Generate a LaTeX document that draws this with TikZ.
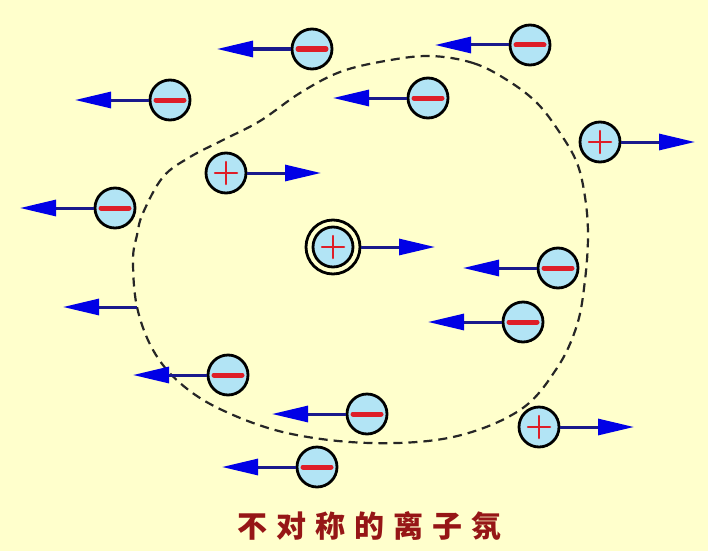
\documentclass[tikz,border=0pt]{standalone}
\usepackage{fontspec}
\newfontfamily\cjk{Noto Sans CJK SC}
\usetikzlibrary{arrows.meta,calc}

\definecolor{paper}{RGB}{255,255,204}
\definecolor{ionfill}{RGB}{178,228,245}
\definecolor{signred}{RGB}{222,30,40}
\definecolor{navyline}{RGB}{25,25,140}
\definecolor{headblue}{RGB}{0,0,230}
\definecolor{cloudtext}{RGB}{150,22,22}

\tikzset{
  ion/.style={circle, draw=black, line width=2.8pt, fill=ionfill, minimum size=40pt, inner sep=0pt},
  shell/.style={circle, draw=black, line width=2.8pt, minimum size=54pt, inner sep=0pt},
  drift/.style={navyline, line width=3pt, -{Triangle[length=36pt,width=16pt,color=headblue]}},
  sign/.style={signred, line cap=round},
  cloud/.style={dash pattern=on 9pt off 6pt, line width=2.2pt, black!85},
}

% negative ion, drifts left
\NewDocumentCommand{\anion}{mm}{%
\node[ion] (#1) at (#2) {};%
\draw[sign, line width=5pt] ($(#1)+(-14,0)$) -- ($(#1)+(14,0)$);%
\coordinate (#1tip) at ($(#1)+(-95,0)$);%
\draw[drift] (#1) -- (#1tip);%
}
% positive ion, drifts right
\NewDocumentCommand{\cation}{mm}{%
\node[ion] (#1) at (#2) {};%
\draw[sign, line width=2.5pt] ($(#1)+(-11,0)$) -- ($(#1)+(11,0)$) ($(#1)+(0,-11)$) -- ($(#1)+(0,11)$);%
\coordinate (#1tip) at ($(#1)+(95,0)$);%
\draw[drift] (#1) -- (#1tip);%
}

\begin{document}
\begin{tikzpicture}[x=1pt, y=-1pt]
        \fill[paper] (0,0) rectangle (708,551);
        \useasboundingbox (0,0) rectangle (708,551);

        % Ionic atmosphere.
        \draw[cloud] plot[smooth cycle, tension=0.6] coordinates {
          (430,56) (473,63) (507,80) (537,103) (560,133) (577,163)
          (585,197) (588,235) (585,280) (577,325) (557,368) (520,410)
          (453,437) (370,443) (287,433) (222,410) (180,383) (153,350)
          (137,307) (133,260) (137,235) (143,213) (163,177) (190,157)
          (223,140) (260,121) (300,93) (340,72) (385,61)};

        % Central ion.
        \node[ion] (cat0) at (333,247) {};
        \draw[sign, line width=2.5pt] ($(cat0)+(-11,0)$) -- ($(cat0)+(11,0)$) ($(cat0)+(0,-11)$) -- ($(cat0)+(0,11)$);
        \node[shell] (shell) at (cat0) {};
        \coordinate (cat0tip) at ($(cat0)+(102,0)$);
        \draw[drift] (shell) -- (cat0tip);

        % Positive ions.
        \cation{cat1}{226,173}
        \cation{cat2}{600,142}
        \cation{cat3}{539,427}

        % Negative ions.
        \anion{an1}{312,49}
        \anion{an2}{530,45}
        \anion{an3}{170,100}
        \anion{an4}{428,98}
        \anion{an5}{115,208}
        \anion{an6}{558,268}
        \anion{an7}{523,322}
        \anion{an8}{228,375}
        \anion{an9}{367,414}
        \anion{an10}{317,467}

        % Leaving the cloud.
        \coordinate (rim) at (137,307);
        \coordinate (rimtip) at (63,307);
        \draw[drift] (rim) -- (rimtip);

        \node[text=cloudtext, font=\cjk\bfseries\fontsize{30}{32}\selectfont\addfontfeature{LetterSpace=30}] (title) at (369,526) {不对称的离子氛};
    \end{tikzpicture}
\end{document}
